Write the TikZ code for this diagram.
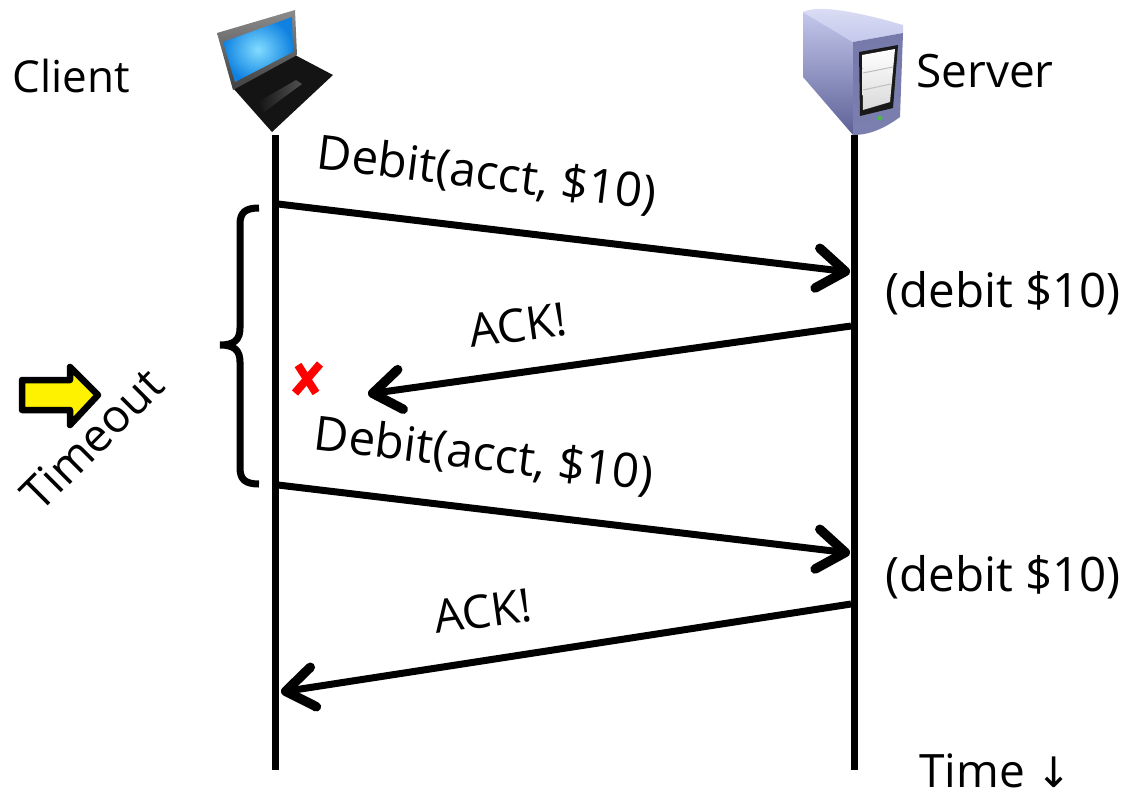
\documentclass[tikz,border=0pt]{standalone}
\usepackage{fontspec}
\setmainfont{Open Sans}
\newfontfamily\arrowfont{DejaVu Sans}
\usetikzlibrary{arrows.meta,shadows}
\definecolor{serverlight}{RGB}{196,200,236}
\definecolor{serverdark}{RGB}{92,96,150}
\definecolor{serverfront}{RGB}{118,122,170}
\definecolor{screenlight}{RGB}{130,220,255}
\definecolor{screendark}{RGB}{15,130,225}
\tikzset{>={Straight Barb[length=28pt,width=40pt,line width=9.5pt,round]}}
\tikzset{lifeline/.style={line width=7pt}}
\tikzset{message/.style={line width=7pt,->}}
\tikzset{caption/.style={font=\fontsize{46}{46}\selectfont,inner sep=0pt}}
\tikzset{debitcaption/.style={caption,font=\fontsize{47.5}{47.5}\selectfont}}
\newcommand\debitlabel{Debit(acct, \$10)}

\begin{document}
\begin{tikzpicture}[x=1pt,y=-1pt]
    \useasboundingbox (0,0) rectangle (1126,793);
    % laptop
    \fill[black!92] (233,88) -- (295,55) -- (333,75) -- (272,132) -- cycle;
    \shade[left color=black!92,right color=black!68] (258,102) -- (296,80) -- (302,84) -- (264,112) -- cycle;
    \shade[top color=black!45,bottom color=black!75] (217,33) -- (295,10) -- (297,55) -- (233,90) -- cycle;
    \shade[inner color=screenlight,outer color=screendark] (223,42) -- (292,17) -- (293,52) -- (235,82) -- cycle;
    % server
    \shade[top color=serverlight,bottom color=serverdark] (803,12) -- (853,42) -- (853,135) -- (803,77) -- cycle;
    \shade[top color=serverlight!60!white,bottom color=serverlight] (803,12) .. controls (815,6) and (845,8) .. (903,25) -- (903,33) -- (853,42) -- cycle;
    \shade[top color=serverfront,bottom color=serverdark!70!serverlight] (853,42) -- (903,33) -- (900,117) .. controls (885,128) and (870,135) .. (853,135) -- cycle;
    \fill[black!90] (859,52) -- (898,45) -- (893,108) -- (860,116) -- cycle;
    \shade[top color=white,bottom color=black!15] (862,55) -- (895,49) -- (890,102) -- (863,110) -- cycle;
    \draw[black!25,line width=1pt] (863,73) -- (893,67);
    \draw[black!25,line width=1pt] (863,90) -- (891,84);
    \fill[green!60!black!70] (880,118) circle (2.5);
    % lifelines
    \coordinate (clienttop) at (275,135);
    \coordinate (clientbot) at (275,770);
    \coordinate (servertop) at (854,135);
    \coordinate (serverbot) at (854,770);
    \draw[lifeline] (clienttop) -- (clientbot);
    \draw[lifeline] (servertop) -- (serverbot);
    % messages
    \coordinate (d1a) at (278,204);
    \coordinate (d1b) at (850,272);
    \coordinate (a1a) at (851,326);
    \coordinate (a1b) at (368,394);
    \coordinate (d2a) at (278,485);
    \coordinate (d2b) at (850,553);
    \coordinate (a2a) at (851,604);
    \coordinate (a2b) at (281,692);
    \draw[message] (d1a) -- (d1b);
    \draw[message] (a1a) -- (a1b);
    \draw[message] (d2a) -- (d2b);
    \draw[message] (a2a) -- (a2b);
    % brace
    \draw[line width=7pt] (259,208) .. controls (246,208) and (240,212) .. (240,224)
        -- (240,328) .. controls (240,340) and (234,345) .. (220,345)
        .. controls (234,345) and (240,350) .. (240,362)
        -- (240,468) .. controls (240,480) and (246,484) .. (259,484);
    % timeout marker
    \draw[line width=6.5pt,line join=round,fill=yellow,drop shadow={shadow xshift=0pt,shadow yshift=-2pt,opacity=.2}]
        (22,380) -- (70,380) -- (70,367) -- (98,395) -- (70,425) -- (70,410) -- (22,410) -- cycle;
    \draw[red,line width=8pt] (320,364) -- (295,393);
    \draw[red,line width=8pt] (298,365) -- (316,393);
    % labels
    \node[caption,font=\fontsize{44}{44}\selectfont] (client) at (71,76) {Client};
    \node[caption] (server) at (985,71) {Server};
    \node[debitcaption,rotate=-7] (debita) at (487,175) {\debitlabel};
    \node[debitcaption,rotate=-7] (debitb) at (484,456) {\debitlabel};
    \node[caption,rotate=8] (acka) at (518,325) {ACK!};
    \node[caption,rotate=8] (ackb) at (483,611) {ACK!};
    \node[debitcaption] (debitc) at (1003,293) {(debit \$10)};
    \node[debitcaption] (debitd) at (1003,577) {(debit \$10)};
    \node[caption,rotate=45] (timeout) at (92,439) {Timeout};
    \node[caption,anchor=base west] (time) at (919,787) {Time {\arrowfont\fontsize{42}{42}\selectfont\char"2193}};
\end{tikzpicture}
\end{document}
